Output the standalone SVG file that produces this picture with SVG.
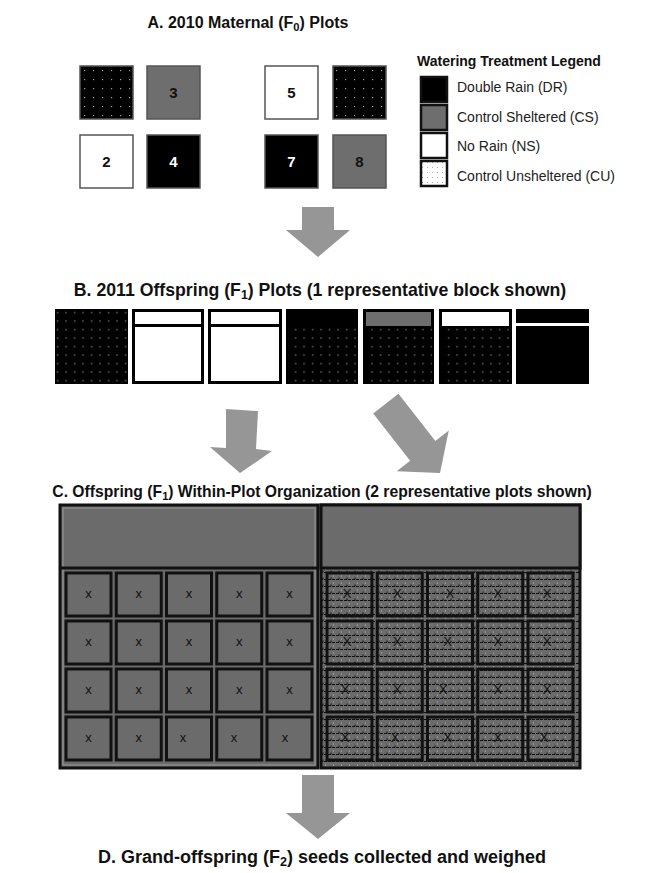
<svg xmlns="http://www.w3.org/2000/svg" width="645" height="873" viewBox="0 0 645 873">
<style>
.title{font-family:"Liberation Sans",Arial,sans-serif;font-weight:bold;fill:#111;text-anchor:middle;}
.sub{font-size:70%;}
.num{font-family:"Liberation Sans",Arial,sans-serif;font-weight:bold;font-size:15px;text-anchor:middle;}
.leg{font-family:"Liberation Sans",Arial,sans-serif;font-size:14px;fill:#222;}
.legt{font-family:"Liberation Sans",Arial,sans-serif;font-size:14px;font-weight:bold;fill:#111;}
.pa{stroke:#555;stroke-width:1.5;}
.blk{fill:#000;}
.gry{fill:#6e6e6e;}
.wht{fill:#fff;}
.arrow{fill:#969696;}
.lbox{stroke:#111;stroke-width:2.5;}
.cell{fill:#6b6b6b;stroke:#111;stroke-width:3;}
.hc{fill:url(#hatch);stroke:#111;stroke-width:3;}
.x{font-family:"Liberation Sans",Arial,sans-serif;font-size:13px;text-anchor:middle;fill:#111;}
</style>
<defs>
<pattern id="dotsA" width="9" height="9" patternUnits="userSpaceOnUse" x="80" y="66">
<rect width="9" height="9" fill="#000"/>
<rect x="4" y="4" width="1.2" height="1.2" fill="#9a9a9a"/>
</pattern>
<pattern id="dotsB" width="8.5" height="8.5" patternUnits="userSpaceOnUse" x="2" y="2">
<rect width="8.5" height="8.5" fill="#000"/>
<rect x="4" y="4" width="1.2" height="1.2" fill="#9a9a9a"/>
</pattern>
<pattern id="dotsW" width="5" height="5" patternUnits="userSpaceOnUse">
<rect width="5" height="5" fill="#fff"/>
<rect x="2" y="2" width="1" height="1" fill="#aaa"/>
</pattern>
<pattern id="hatch" width="8" height="7" patternUnits="userSpaceOnUse" x="0" y="0">
<rect width="8" height="7" fill="#6b6b6b"/>
<path d="M0 5.5 H3 M4 5.5 H7" stroke="#111" stroke-width="1"/>
<path d="M3 5.5 V3.5" stroke="#111" stroke-width="1"/>
<rect x="5" y="1.5" width="1" height="1" fill="#bbb"/>
</pattern>
</defs>

<text class="title" x="248" y="28" font-size="16">A. 2010 Maternal (F<tspan class="sub" dy="3">0</tspan><tspan dy="-3">) Plots</tspan></text>

<g id="plotA1"><rect class="pa" x="80" y="66" width="53" height="53" fill="url(#dotsA)"/></g>
<g id="plotA3"><rect class="pa gry" x="147" y="66" width="53" height="53"/><text class="num" x="173.5" y="98" fill="#111">3</text></g>
<g id="plotA5"><rect class="pa wht" x="265" y="66" width="53" height="53"/><text class="num" x="291.5" y="98" fill="#111">5</text></g>
<g id="plotA6"><rect class="pa" x="333" y="66" width="53" height="53" fill="url(#dotsA)"/></g>
<g id="plotA2"><rect class="pa wht" x="80" y="135" width="53" height="53"/><text class="num" x="106.5" y="167" fill="#111">2</text></g>
<g id="plotA4"><rect class="pa blk" x="147" y="135" width="53" height="53"/><text class="num" x="173.5" y="167" fill="#fff">4</text></g>
<g id="plotA7"><rect class="pa blk" x="265" y="135" width="53" height="53"/><text class="num" x="291.5" y="167" fill="#fff">7</text></g>
<g id="plotA8"><rect class="pa gry" x="333" y="135" width="53" height="53"/><text class="num" x="359.5" y="167" fill="#111">8</text></g>

<g id="legend">
<text class="legt" x="417" y="66">Watering Treatment Legend</text>
<rect class="lbox blk" x="421" y="77" width="26" height="25"/>
<text class="leg" x="457" y="92">Double Rain (DR)</text>
<rect class="lbox gry" x="421" y="105" width="26" height="25"/>
<text class="leg" x="457" y="122">Control Sheltered (CS)</text>
<rect class="lbox wht" x="421" y="133" width="26" height="25"/>
<text class="leg" x="457" y="151">No Rain (NS)</text>
<rect class="lbox" x="421" y="161" width="26" height="25" fill="url(#dotsW)"/>
<text class="leg" x="457" y="181">Control Unsheltered (CU)</text>
</g>

<g id="connectors">
<polygon id="arrow1" class="arrow" points="302,207 334,207 334,230 350,230 318,257 286,230 302,230"/>
<polygon id="arrow2" class="arrow" points="226,409 258,411 256,449 272,451 240,473 210,447 226,448"/>
<polygon id="arrow3" class="arrow" transform="translate(440,473) rotate(-38)" points="-16,-88 16,-88 16,-28 33,-28 0,0 -33,-28 -16,-28"/>
<polygon id="arrow4" class="arrow" points="302,775 334,775 334,813 350,813 318,839 286,813 302,813"/>
</g>

<text class="title" x="320" y="296" font-size="17.7">B. 2011 Offspring (F<tspan class="sub" dy="3">1</tspan><tspan dy="-3">) Plots (1 representative block shown)</tspan></text>

<g id="plotB1"><rect x="55" y="309" width="73" height="75" fill="url(#dotsB)"/></g>
<g id="plotB2"><rect class="blk" x="132" y="309" width="72" height="75"/><rect class="wht" x="135" y="312" width="66" height="12"/><rect class="wht" x="135" y="327" width="66" height="54"/></g>
<g id="plotB3"><rect class="blk" x="208" y="309" width="74" height="75"/><rect class="wht" x="211" y="312" width="68" height="12"/><rect class="wht" x="211" y="327" width="68" height="54"/></g>
<g id="plotB4"><rect class="blk" x="286" y="309" width="72" height="75"/><rect x="288" y="326" width="68" height="56" fill="url(#dotsB)"/></g>
<g id="plotB5"><rect class="blk" x="363" y="309" width="71" height="75"/><rect class="gry" x="366" y="312" width="65" height="14"/><rect x="365" y="328" width="67" height="54" fill="url(#dotsB)"/></g>
<g id="plotB6"><rect class="blk" x="439" y="309" width="73" height="75"/><rect class="wht" x="442" y="312" width="67" height="14"/><rect x="441" y="328" width="69" height="54" fill="url(#dotsB)"/></g>
<g id="plotB7"><rect class="blk" x="516" y="309" width="73" height="14"/><rect class="blk" x="516" y="326" width="73" height="58"/></g>

<text class="title" x="322" y="497" font-size="15.7">C. Offspring (F<tspan class="sub" dy="3">1</tspan><tspan dy="-3">) Within-Plot Organization (2 representative plots shown)</tspan></text>

<g id="panelC1">
<rect x="60" y="505" width="258" height="263" fill="#6b6b6b" stroke="#111" stroke-width="3"/>
<rect x="63" y="508" width="252" height="257" fill="none" stroke="#999" stroke-width="1"/>
<line x1="60" y1="568" x2="318" y2="568" stroke="#111" stroke-width="3"/>
<g id="gridC1">
<rect class="cell" x="66" y="573" width="45" height="43"/><rect class="cell" x="116.25" y="573" width="45" height="43"/><rect class="cell" x="166.5" y="573" width="45" height="43"/><rect class="cell" x="216.75" y="573" width="45" height="43"/><rect class="cell" x="267" y="573" width="45" height="43"/>
<rect class="cell" x="66" y="621" width="45" height="43"/><rect class="cell" x="116.25" y="621" width="45" height="43"/><rect class="cell" x="166.5" y="621" width="45" height="43"/><rect class="cell" x="216.75" y="621" width="45" height="43"/><rect class="cell" x="267" y="621" width="45" height="43"/>
<rect class="cell" x="66" y="669" width="45" height="43"/><rect class="cell" x="116.25" y="669" width="45" height="43"/><rect class="cell" x="166.5" y="669" width="45" height="43"/><rect class="cell" x="216.75" y="669" width="45" height="43"/><rect class="cell" x="267" y="669" width="45" height="43"/>
<rect class="cell" x="66" y="717" width="45" height="43"/><rect class="cell" x="116.25" y="717" width="45" height="43"/><rect class="cell" x="166.5" y="717" width="45" height="43"/><rect class="cell" x="216.75" y="717" width="45" height="43"/><rect class="cell" x="267" y="717" width="45" height="43"/>
</g>
<g id="xC1">
<text class="x" x="88.5" y="598">x</text><text class="x" x="138.75" y="598">x</text><text class="x" x="189" y="598">x</text><text class="x" x="239.25" y="598">x</text><text class="x" x="289.5" y="598">x</text>
<text class="x" x="88.5" y="646">x</text><text class="x" x="138.75" y="646">x</text><text class="x" x="189" y="646">x</text><text class="x" x="239.25" y="646">x</text><text class="x" x="289.5" y="646">x</text>
<text class="x" x="88.5" y="694">x</text><text class="x" x="138.75" y="694">x</text><text class="x" x="189" y="694">x</text><text class="x" x="239.25" y="694">x</text><text class="x" x="289.5" y="694">x</text>
<text class="x" x="88.5" y="742">x</text><text class="x" x="138.75" y="742">x</text><text class="x" x="183" y="742">x</text><text class="x" x="234" y="742">x</text><text class="x" x="285" y="742">x</text>
</g>
</g>

<g id="panelC2">
<rect x="321" y="505" width="259" height="263" fill="url(#hatch)" stroke="#111" stroke-width="3"/>
<rect x="321" y="505" width="259" height="63" fill="#6b6b6b" stroke="#111" stroke-width="3"/>
<g id="gridC2">
<rect class="hc" x="327" y="573" width="45" height="43"/><rect class="hc" x="377.25" y="573" width="45" height="43"/><rect class="hc" x="427.5" y="573" width="45" height="43"/><rect class="hc" x="477.75" y="573" width="45" height="43"/><rect class="hc" x="528" y="573" width="45" height="43"/>
<rect class="hc" x="327" y="621" width="45" height="43"/><rect class="hc" x="377.25" y="621" width="45" height="43"/><rect class="hc" x="427.5" y="621" width="45" height="43"/><rect class="hc" x="477.75" y="621" width="45" height="43"/><rect class="hc" x="528" y="621" width="45" height="43"/>
<rect class="hc" x="327" y="669" width="45" height="43"/><rect class="hc" x="377.25" y="669" width="45" height="43"/><rect class="hc" x="427.5" y="669" width="45" height="43"/><rect class="hc" x="477.75" y="669" width="45" height="43"/><rect class="hc" x="528" y="669" width="45" height="43"/>
<rect class="hc" x="327" y="717" width="45" height="43"/><rect class="hc" x="377.25" y="717" width="45" height="43"/><rect class="hc" x="427.5" y="717" width="45" height="43"/><rect class="hc" x="477.75" y="717" width="45" height="43"/><rect class="hc" x="528" y="717" width="45" height="43"/>
</g>
<g id="xC2">
<text class="x" x="347" y="598">X</text><text class="x" x="397.25" y="598">X</text><text class="x" x="450" y="598">X</text><text class="x" x="497.75" y="598">X</text><text class="x" x="547" y="598">X</text>
<text class="x" x="347" y="646">X</text><text class="x" x="397.25" y="646">X</text><text class="x" x="447.5" y="646">X</text><text class="x" x="497.75" y="646">X</text><text class="x" x="547" y="646">X</text>
<text class="x" x="345" y="694">X</text><text class="x" x="397.25" y="694">X</text><text class="x" x="443" y="694">X</text><text class="x" x="497.75" y="694">X</text><text class="x" x="547" y="694">X</text>
<text class="x" x="345" y="742">X</text><text class="x" x="395" y="742">X</text><text class="x" x="447.5" y="742">X</text><text class="x" x="497.75" y="742">X</text><text class="x" x="544" y="742">X</text>
</g>
</g>

<text class="title" x="322" y="863" font-size="18">D. Grand-offspring (F<tspan class="sub" dy="3">2</tspan><tspan dy="-3">) seeds collected and weighed</tspan></text>
</svg>
